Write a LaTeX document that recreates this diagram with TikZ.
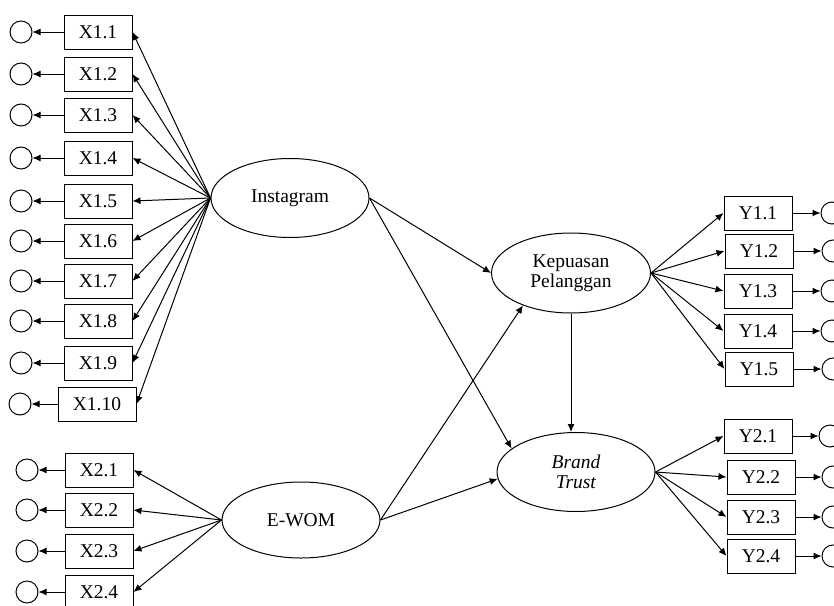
\documentclass[tikz,border=0pt]{standalone}
\usepackage{fontspec}
\setmainfont{Liberation Serif}
\usetikzlibrary{arrows.meta,shapes.geometric,positioning}

\begin{document}
\begin{tikzpicture}[x=1pt,y=-1pt,
  font=\fontsize{19.5}{20}\selectfont,
  indbox/.style={draw,line width=1pt,minimum width=68pt,minimum height=34pt,inner sep=0pt},
  latent/.style={draw,ellipse,line width=1pt,minimum width=158pt,minimum height=79pt,inner sep=0pt,align=center},
  errc/.style={draw,circle,line width=1pt,minimum size=22pt,inner sep=0pt},
  arr/.style={-{Latex[length=8pt,width=7pt]},line width=1pt}]
\useasboundingbox (0,0) rectangle (834,605);

% latent variables
\node[latent] (ig) at (290,198) {Instagram};
\node[latent,minimum height=76pt] (ewom) at (301,520) {E-WOM};
\node[latent,minimum width=159pt,minimum height=80pt] (kp) at (571,273) {Kepuasan\\Pelanggan};
\node[latent] (bt) at (576,472) {\textit{Brand}\\\textit{Trust}};

% Instagram indicators
\foreach \i/\y in {1/32,2/74,3/115,4/158,5/201,6/241,7/281,8/321,9/363} {
  \node[indbox] (x1-\i) at (98,\y) {X1.\i};
  \node[errc,left=31pt of x1-\i] (e1-\i) {};
  \draw[arr] (x1-\i.west) -- (e1-\i.east);
  \draw[arr] (ig.west) -- (x1-\i.east);
}
\node[indbox,minimum width=78pt] (x1-10) at (97,404) {X1.10};
\node[errc,left=26pt of x1-10] (e1-10) {};
\draw[arr] (x1-10.west) -- (e1-10.east);
\draw[arr] (ig.west) -- (x1-10.east);

% E-WOM indicators
\foreach \i/\y in {1/470,2/510,3/551,4/592} {
  \node[indbox] (x2-\i) at (99,\y) {X2.\i};
  \node[errc,left=26pt of x2-\i] (e2-\i) {};
  \draw[arr] (x2-\i.west) -- (e2-\i.east);
  \draw[arr] (ewom.west) -- (x2-\i.east);
}

% Kepuasan Pelanggan indicators
\foreach \i/\x/\y in {1/758/213,2/759/251,3/758/291,4/758/331,5/759/369} {
  \node[indbox] (y1-\i) at (\x,\y) {Y1.\i};
  \node[errc,right=28pt of y1-\i] (f1-\i) {};
  \draw[arr] (y1-\i.east) -- (f1-\i.west);
  \draw[arr] (kp.east) -- (y1-\i.west);
}

% Brand Trust indicators
\foreach \i/\x/\y in {1/758/436,2/761/477,3/761/517,4/761/556} {
  \node[indbox] (y2-\i) at (\x,\y) {Y2.\i};
  \node[errc,right=26pt of y2-\i] (f2-\i) {};
  \draw[arr] (y2-\i.east) -- (f2-\i.west);
  \draw[arr] (bt.east) -- (y2-\i.west);
}

% structural paths
\draw[arr] (ig.east) -- (kp.west);
\draw[arr] (ig.east) -- (bt.160);
\draw[arr] (ewom.east) -- (kp.214);
\draw[arr] (ewom.east) -- (bt.185);
\draw[arr] (kp.south) -- (kp.south |- bt.north);
\end{tikzpicture}
\end{document}
